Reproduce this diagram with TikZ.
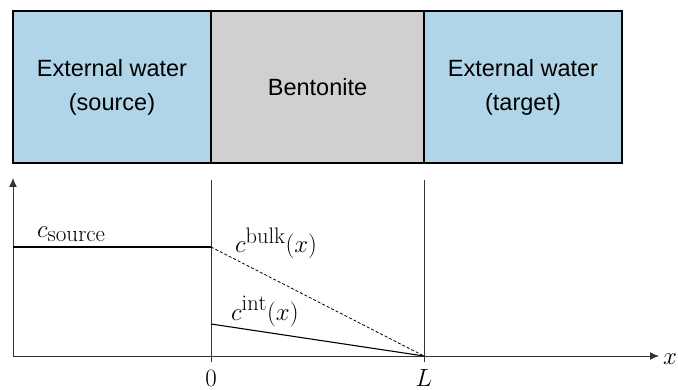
\documentclass[tikz,border=0pt]{standalone}
\usepackage{fontspec}
\setsansfont{Liberation Sans}
\usetikzlibrary{arrows.meta}
\definecolor{water}{RGB}{176,212,232}
\definecolor{bento}{RGB}{209,207,208}
\begin{document}
\begin{tikzpicture}[x=1pt,y=-1pt,
  region/.style={draw=black,line width=1.3pt,minimum height=152pt,inner sep=0pt,
    font=\sffamily\fontsize{23.5}{34}\selectfont,align=center},
  axisline/.style={draw=black!80,line width=0.9pt},
  guide/.style={draw=black!80,line width=0.9pt},
  curve/.style={draw=black,line width=1.1pt},
  mathlbl/.style={font=\fontsize{32}{36}\selectfont,inner sep=0pt}]
\useasboundingbox (0,0) rectangle (678,390);
% regions
\node[region,fill=water,minimum width=198pt] (src) at (112,87) {External water\\(source)};
\node[region,fill=bento,minimum width=213pt] (bent) at (317.5,87) {Bentonite};
\node[region,fill=water,minimum width=198pt] (tgt) at (523,87) {External water\\(target)};
% axes
\coordinate (O) at (13,356);
\coordinate (ytop) at (13,178);
\coordinate (xend) at (659,356);
\draw[axisline,-{Latex[length=9pt,width=8pt]}] (O) -- (ytop);
\draw[axisline,-{Latex[length=9pt,width=8pt]}] (O) -- (xend);
\node[mathlbl,anchor=base] (xl) at (670,364) {$x$};
% guides
\coordinate (g0t) at (211,180);
\coordinate (g0b) at (211,362);
\coordinate (gLt) at (424,180);
\coordinate (gLb) at (424,362);
\draw[guide] (g0t) -- (g0b);
\draw[guide] (gLt) -- (gLb);
\node[mathlbl,anchor=base,font=\fontsize{28}{32}\selectfont] (zero) at (211,386) {$0$};
\node[mathlbl,anchor=base,font=\fontsize{28}{32}\selectfont] (ell) at (424,386) {$L$};
% curves
\coordinate (s0) at (13,247);
\coordinate (s1) at (211,247);
\coordinate (i0) at (211,324);
\coordinate (e) at (424,356);
\draw[curve] (s0) -- (s1);
\draw[curve,dashed,dash pattern=on 3pt off 2pt,line width=0.8pt] (s1) -- (e);
\draw[curve] (i0) -- (e);
\node[mathlbl,anchor=base west,font=\fontsize{29}{34}\selectfont] (cs) at (37,238) {$c_{\mbox{\fontsize{23}{27}\selectfont source}}$};
\node[mathlbl,anchor=base west] (cb) at (235,253) {$c^{\mathrm{bulk}}(x)$};
\node[mathlbl,anchor=base west] (ci) at (231,320) {$c^{\mathrm{int}}(x)$};
\end{tikzpicture}
\end{document}
